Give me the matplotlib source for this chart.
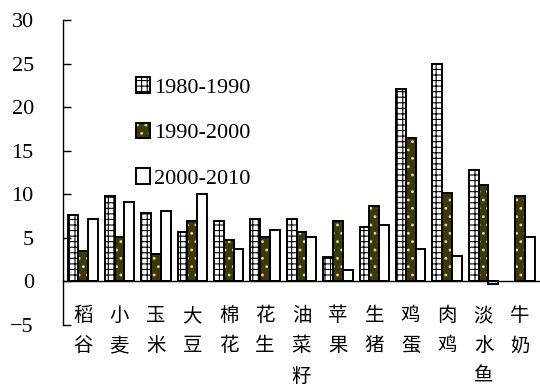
import numpy as np
import matplotlib.pyplot as plt
from matplotlib.patches import Patch

plt.rcParams['font.family'] = ['Liberation Serif', 'Noto Sans CJK SC']
plt.rcParams['hatch.linewidth'] = 0.8

cats = ['稻谷', '小麦', '玉米', '大豆', '棉花', '花生', '油菜籽', '苹果',
        '生猪', '鸡蛋', '肉鸡', '淡水鱼', '牛奶']
s1 = [7.6, 9.8, 7.8, 5.7, 6.95, 7.2, 7.2, 2.8, 6.2, 22.1, 24.9, 12.8, np.nan]
s2 = [3.5, 5.15, 3.15, 6.95, 4.7, 5.1, 5.65, 6.95, 8.7, 16.5, 10.1, 11.1, 9.8]
s3 = [7.2, 9.1, 8.1, 10.05, 3.7, 5.9, 5.15, 1.3, 6.45, 3.7, 2.9, -0.3, 5.05]
names = ['1980-1990', '1990-2000', '2000-2010']

fig = plt.figure(figsize=(5.4, 3.87), dpi=100)
ax = fig.add_axes([63/540, 1-325/387, 1-63/540, (325-20)/387])

x = np.arange(len(cats))
w = 0.27
olive = '#3a3810'

# 1980-1990: white with brick grid
ax.bar(x - w, s1, w, color='white', edgecolor='black', hatch='+++', linewidth=0)
ax.bar(x - w, s1, w, fill=False, edgecolor='black', linewidth=1.4)
# 1990-2000: dark olive with yellow dots
ax.bar(x, s2, w, color=olive, edgecolor='#e8e070', hatch='..', linewidth=0)
ax.bar(x, s2, w, fill=False, edgecolor='black', linewidth=1.4)
# 2000-2010: plain white
ax.bar(x + w, s3, w, color='white', edgecolor='black', linewidth=1.4)

ax.set_xlim(-0.55, 12.55)
ax.set_ylim(-5, 30)
ax.set_yticks(range(-5, 31, 5))
ax.tick_params(axis='y', direction='in', length=6, width=1, pad=21, labelsize=16)

ax.spines['top'].set_visible(False)
ax.spines['right'].set_visible(False)
ax.spines['bottom'].set_position(('data', 0))
ax.spines['left'].set_linewidth(1)
ax.spines['bottom'].set_linewidth(1)

ax.set_xticks(x)
ax.set_xticklabels(['\n'.join(c) for c in cats], fontfamily='Noto Sans CJK SC',
                   fontsize=14, linespacing=1.58, va='top')
ax.tick_params(axis='x', length=0, pad=17)

h1 = (Patch(facecolor='white', edgecolor='black', hatch='+++', linewidth=0),
      Patch(fill=False, edgecolor='black', linewidth=1.4))
h2 = (Patch(facecolor=olive, edgecolor='#e8e070', hatch='..', linewidth=0),
      Patch(fill=False, edgecolor='black', linewidth=1.4))
h3 = Patch(facecolor='white', edgecolor='black', linewidth=1.4)
fig.legend([h1, h2, h3], names, loc='upper left', bbox_to_anchor=(136/540, 1-77/387),
           frameon=False, borderpad=0, borderaxespad=0, fontsize=16,
           handlelength=0.65, handleheight=0.7, handletextpad=0.15, labelspacing=1.13)

fig.savefig('out.png', dpi=100)
